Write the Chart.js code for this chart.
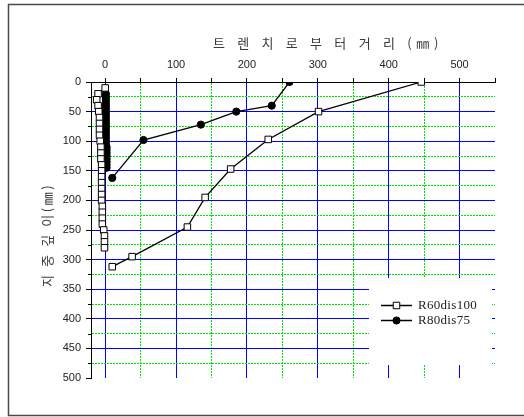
<!DOCTYPE html>
<html>
<head>
<meta charset="utf-8">
<script src="https://cdn.jsdelivr.net/npm/chart.js@4/dist/chart.umd.min.js"></script>
<style>
  html, body { margin: 0; padding: 0; background: #fff; }
  #wrap { width: 524px; height: 417px; position: relative; }
  canvas { display: block; }
</style>
</head>
<body>
<div id="wrap"><canvas id="c" width="524" height="417"></canvas></div>
<script>
// R60dis100: distance from trench (mm) vs. depth (mm)
const r60Dist  = [446, 301, 230, 177, 141, 116, 38, 10];
const r60Depth = [0, 50, 97, 147, 195, 245, 295, 312];
// R60dis100: readings along the trench wall
const r60WallDepth = [10, 20, 30, 40, 50, 60, 70, 80, 90, 100, 110, 120, 130, 140,
                      150, 160, 170, 180, 190, 200, 210, 220, 230, 240, 250, 260, 270, 280];
const r60WallDist  = [0, -10, -12, -10, -9, -8, -8, -8, -8, -7, -6, -6, -6, -5,
                      -5, -5, -5, -5, -5, -5, -4, -4, -4, -4, -2, -1, -1, -1];

// R80dis75
const r80Dist  = [260, 235, 185, 135, 54, 10];
const r80Depth = [0, 40, 50, 72, 98, 162];
const r80WallDepth = [20, 25, 30, 35, 40, 45, 50, 55, 60, 65, 70, 75, 80, 85,
                      90, 95, 100, 105, 110, 115, 120, 125, 130, 135, 140, 145];
const r80WallDist  = [1, 1, 1, 1, 1, 1, 1, 1, 1, 1, 1, 1, 1, 1,
                      1, 1, 1, 1, 2, 2, 2, 2, 2, 2, 2, 2];

const seriesNames = ['R60dis100', 'R80dis75'];

// axis ticks
const xTickValues  = [0, 50, 100, 150, 200, 250, 300, 350, 400, 450, 500, 550];
const xLabelValues = [0, 100, 200, 300, 400, 500];
const yTickValues  = [0, 25, 50, 75, 100, 125, 150, 175, 200, 225, 250, 275, 300,
                      325, 350, 375, 400, 425, 450, 475, 500];
const yLabelValues = [0, 50, 100, 150, 200, 250, 300, 350, 400, 450, 500];

const xTitle = '트 렌 치 로 부 터 거 리 (㎜)';
const yTitle = '지 중 깊 이(㎜)';

function toPoints(xs, ys) { return xs.map((v, i) => ({ x: v, y: ys[i] })); }
// main profile, a break, then the wall readings
function withWall(mx, my, wx, wy) {
  return toPoints(mx, my).concat([{ x: null, y: null }], toPoints(wx, wy));
}

const MAJOR = '#0000ff';
const MINOR = '#00e600';

function gridColor(value, isMajor, skip) {
  if (skip.includes(value)) return 'rgba(0,0,0,0)';
  return isMajor(value) ? MAJOR : MINOR;
}

// draws text one glyph at a time with extra spacing
function spacedText(ctx, text, x, y, spacing) {
  let cx = x;
  for (const ch of text) {
    ctx.fillText(ch, cx, y);
    cx += ctx.measureText(ch).width + spacing;
  }
  return cx - spacing - x;
}

function drawMarker(ctx, ds, x, y) {
  ctx.save();
  ctx.lineWidth = ds.pointBorderWidth;
  ctx.strokeStyle = ds.pointBorderColor;
  ctx.fillStyle = ds.pointBackgroundColor;
  ctx.beginPath();
  if (ds.pointStyle === 'rect') {
    const s = Math.SQRT1_2 * ds.pointRadius;
    ctx.rect(x - s, y - s, 2 * s, 2 * s);
  } else {
    ctx.arc(x, y, ds.pointRadius, 0, Math.PI * 2);
  }
  ctx.fill();
  ctx.stroke();
  ctx.restore();
}

const decor = {
  id: 'decor',
  beforeDraw(chart) {
    const ctx = chart.ctx;
    ctx.save();
    ctx.fillStyle = '#fff';
    ctx.fillRect(0, 0, chart.width, chart.height);
    // outer frame
    ctx.strokeStyle = '#4a4a4a';
    ctx.lineWidth = 1.5;
    ctx.beginPath();
    ctx.moveTo(chart.width + 5, 4.5);
    ctx.lineTo(8.5, 4.5);
    ctx.lineTo(8.5, 415.5);
    ctx.lineTo(chart.width + 5, 415.5);
    ctx.stroke();
    ctx.restore();
  },
  beforeDatasetsDraw(chart) {
    const ctx = chart.ctx;
    const ys = chart.scales.y;
    const a = chart.chartArea;
    ctx.save();
    // short ticks at the in-between depths
    ctx.strokeStyle = '#000';
    ctx.lineWidth = 1;
    yTickValues.filter(v => !yLabelValues.includes(v)).forEach(v => {
      const py = Math.round(ys.getPixelForValue(v)) + 0.5;
      ctx.beginPath();
      ctx.moveTo(a.left - 3, py);
      ctx.lineTo(a.left, py);
      ctx.stroke();
    });
    // legend panel
    ctx.fillStyle = '#fff';
    ctx.fillRect(369, 278, 123, 87);
    ctx.restore();
  },
  afterDraw(chart) {
    const ctx = chart.ctx;
    ctx.save();
    // legend entries
    const rows = [305, 320];
    chart.data.datasets.forEach((ds, i) => {
      const y = rows[i];
      ctx.strokeStyle = ds.borderColor;
      ctx.lineWidth = 1.5;
      ctx.beginPath();
      ctx.moveTo(381, y + 0.5);
      ctx.lineTo(412, y + 0.5);
      ctx.stroke();
      drawMarker(ctx, ds, 396.5, y + 0.5);
      ctx.fillStyle = '#222';
      ctx.font = '13px "Liberation Serif", serif';
      ctx.textBaseline = 'middle';
      ctx.textAlign = 'left';
      spacedText(ctx, ds.label, 418, y + 1, 0.3);
    });
    // axis titles
    ctx.fillStyle = '#3a3a3a';
    ctx.font = '13px "Noto Sans CJK KR", sans-serif';
    ctx.textBaseline = 'middle';
    ctx.textAlign = 'left';
    spacedText(ctx, xTitle, 213, 43, 4.7);
    ctx.translate(47, 287);
    ctx.rotate(-Math.PI / 2);
    spacedText(ctx, yTitle, 0, 0, 2.6);
    ctx.restore();
  }
};

const tickFont = { family: '"Liberation Sans", Arial, sans-serif', size: 11 };

new Chart(document.getElementById('c'), {
  type: 'line',
  data: {
    datasets: [
      {
        label: seriesNames[0],
        data: withWall(r60Dist, r60Depth, r60WallDist, r60WallDepth),
        borderColor: '#000',
        borderWidth: 1.3,
        pointStyle: 'rect',
        pointRadius: 4.6,
        pointBorderWidth: 1,
        pointBorderColor: '#000',
        pointBackgroundColor: '#fff',
        spanGaps: false,
        tension: 0
      },
      {
        label: seriesNames[1],
        data: withWall(r80Dist, r80Depth, r80WallDist, r80WallDepth),
        borderColor: '#000',
        borderWidth: 1.3,
        pointStyle: 'circle',
        pointRadius: 3.6,
        pointBorderWidth: 1,
        pointBorderColor: '#000',
        pointBackgroundColor: '#000',
        spanGaps: false,
        tension: 0
      }
    ]
  },
  options: {
    responsive: false,
    animation: false,
    events: [],
    layout: { padding: { left: 0, top: 0, right: 29, bottom: 39 } },
    plugins: { legend: { display: false }, tooltip: { enabled: false } },
    scales: {
      x: {
        type: 'linear',
        position: 'top',
        min: -20,
        max: 550,
        afterBuildTicks: s => { s.ticks = xTickValues.map(v => ({ value: v })); },
        afterFit: s => { s.height = 82; },
        ticks: {
          autoSkip: false,
          maxRotation: 0,
          padding: 6,
          color: '#222',
          font: tickFont,
          callback: v => (xLabelValues.includes(v) ? String(v) : '')
        },
        grid: {
          color: c => gridColor(c.tick.value, v => v % 100 === 0, [550]),
          lineWidth: 1,
          tickLength: 4,
          tickColor: '#000'
        },
        border: {
          display: true,
          color: '#000',
          width: 1,
          dash: c => (c.tick && c.tick.value % 100 !== 0 ? [2, 1] : [])
        }
      },
      y: {
        type: 'linear',
        position: 'left',
        reverse: true,
        min: 0,
        max: 500,
        afterBuildTicks: s => { s.ticks = yTickValues.map(v => ({ value: v })); },
        afterFit: s => { s.width = 91; },
        ticks: {
          autoSkip: false,
          padding: 5,
          color: '#222',
          font: tickFont,
          callback: v => (yLabelValues.includes(v) ? String(v) : '')
        },
        grid: {
          color: c => gridColor(c.tick.value, v => v % 50 === 0, [0, 500]),
          lineWidth: 1,
          tickLength: 5,
          tickColor: c => (yLabelValues.includes(c.tick.value) ? '#000' : 'rgba(0,0,0,0)')
        },
        border: {
          display: true,
          color: '#000',
          width: 1,
          dash: c => (c.tick && c.tick.value % 50 !== 0 ? [2, 1] : [])
        }
      }
    }
  },
  plugins: [decor]
});
</script>
</body>
</html>
